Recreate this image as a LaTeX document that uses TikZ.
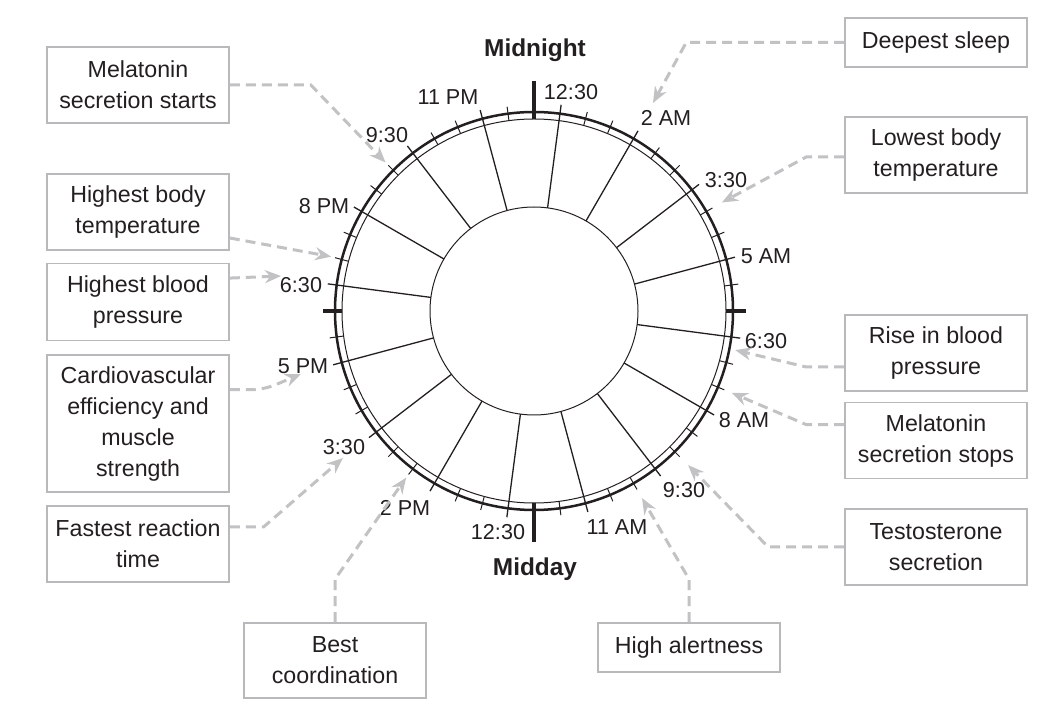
\documentclass[tikz,border=0pt]{standalone}
\usepackage{fontspec}
\setmainfont{Liberation Sans}
\usepackage{tikz}
\usetikzlibrary{arrows.meta,positioning}
\definecolor{boxgray}{RGB}{185,185,187}
\definecolor{cnxgray}{RGB}{194,194,196}
\definecolor{ink}{RGB}{35,31,32}
\tikzset{
  evt/.style={rectangle,draw=boxgray,line width=0.8pt,minimum width=91pt,minimum height=38pt,align=center,inner sep=0pt,text=ink,font=\fontsize{11.6}{15.5}\selectfont},
  hr/.style={inner sep=0pt,text=ink,font=\fontsize{10.8}{13}\selectfont},
  ttl/.style={inner sep=0pt,text=ink,font=\fontsize{12.2}{14}\selectfont\bfseries},
  cnx/.style={draw=cnxgray,line width=1.5pt,dash pattern=on 5pt off 3pt,-{Stealth[length=8pt,width=6.5pt]}},
  spoke/.style={draw=ink,line width=0.65pt},
  mtick/.style={draw=ink,line width=0.5pt},
  btick/.style={draw=ink,line width=1.6pt},
}
\begin{document}
\begin{tikzpicture}[x=0.5pt,y=0.5pt]
  \useasboundingbox (0,0) rectangle (1060,723);
  \begin{scope}[shift={(534,412)}]
    \draw[ink,line width=1.25pt] (0,0) circle (199);
    \draw[ink,line width=0.5pt] (0,0) circle (192);
    \draw[ink,line width=0.5pt] (0,0) circle (104);
    \foreach \i in {0,...,15}
      \draw[spoke] ({82.5-22.5*\i}:104) -- ({82.5-22.5*\i}:208);
    \foreach \i in {0,...,15}{
      \draw[mtick] ({75-22.5*\i}:192) -- ({75-22.5*\i}:206);
      \draw[mtick] ({67.5-22.5*\i}:192) -- ({67.5-22.5*\i}:206);
    }
    \draw[btick] (90:192) -- (90:230);
    \draw[btick] (270:192) -- (270:231);
    \draw[btick] (180:192) -- (180:211);
    \draw[btick] (0:192) -- (0:212);
    \coordinate (t1) at (135:210);
    \coordinate (t2) at (165:210);
    \coordinate (t6) at (232.5:210);
    \coordinate (t7) at (-60:216);
    \coordinate (t9) at (30:217);
    \coordinate (t10) at (-11:205);
    \coordinate (t11) at (-22.5:214);
    \coordinate (t12) at (-45:218);
  \end{scope}
  \coordinate (t3) at (281,447);
  \coordinate (t4) at (301,349);
  \coordinate (t5) at (343,265);
  \coordinate (t8) at (653,620);

  \node[ttl] (mid) at (535,673) {Midnight};
  \node[ttl] (day) at (535,154) {Midday};
  \node[hr] (h1) at (571,631) {12:30};
  \node[hr] (h2) at (666,605) {2 AM};
  \node[hr] (h3) at (726,543) {3:30};
  \node[hr] (h4) at (766,467) {5 AM};
  \node[hr] (h5) at (766,382) {6:30};
  \node[hr] (h6) at (744,303) {8 AM};
  \node[hr] (h7) at (684,233) {9:30};
  \node[hr] (h8) at (617,196) {11 AM};
  \node[hr] (h9) at (498,191) {12:30};
  \node[hr] (h10) at (405,215) {2 PM};
  \node[hr] (h11) at (344,276) {3:30};
  \node[hr] (h12) at (303,357) {5 PM};
  \node[hr] (h13) at (301,438) {6:30};
  \node[hr] (h14) at (324,517) {8 PM};
  \node[hr] (h15) at (387,588) {9:30};
  \node[hr] (h16) at (448,626) {11 PM};

  \node[evt] (mss) at (138,638) {Melatonin\\secretion starts};
  \node[evt] (hbt) at (138,511) {Highest body\\temperature};
  \node[evt,minimum height=38.5pt,below=6pt of hbt] (hbp) {Highest blood\\pressure};
  \node[evt,minimum height=68.5pt,below=6.5pt of hbp] (cve) {Cardiovascular\\efficiency and\\muscle\\strength};
  \node[evt,below=6pt of cve] (frt) {Fastest reaction\\time};
  \node[evt,minimum height=37.5pt] (bc) at (335,62.5) {Best\\coordination};
  \node[evt,minimum height=24.5pt] (ha) at (689,75.5) {High alertness};
  \node[evt,minimum height=24.5pt] (ds) at (936,680.5) {Deepest sleep};
  \node[evt] (lbt) at (936,568) {Lowest body\\temperature};
  \node[evt] (rbp) at (936,370) {Rise in blood\\pressure};
  \node[evt,below=5pt of rbp] (mst) {Melatonin\\secretion stops};
  \node[evt] (ts) at (936,176) {Testosterone\\secretion};

  \draw[cnx] (mss.east) -- ++(81,0) -- (t1);
  \draw[cnx] ([yshift=-13pt]hbt.east) -- (t2);
  \draw[cnx] ([yshift=12pt]hbp.east) -- (t3);
  \draw[cnx,rounded corners=6pt] ([yshift=17pt]cve.east) -- ++(34,0) -- (t4);
  \draw[cnx] ([yshift=8.5pt]frt.east) -- ++(34,0) -- (t5);
  \draw[cnx] (bc.north) -- ++(0,43) -- (t6);
  \draw[cnx] (ha.north) -- ++(0,43) -- (t7);
  \draw[cnx] (ds.west) -- ++(-158,0) -- (t8);
  \draw[cnx] ([yshift=-1pt]lbt.west) -- ++(-38,0) -- (t9);
  \draw[cnx] ([yshift=-7pt]rbp.west) -- ++(-38,0) -- (t10);
  \draw[cnx] ([yshift=8pt]mst.west) -- ++(-38,0) -- (t11);
  \draw[cnx] (ts.west) -- ++(-76,0) -- (t12);
\end{tikzpicture}
\end{document}
